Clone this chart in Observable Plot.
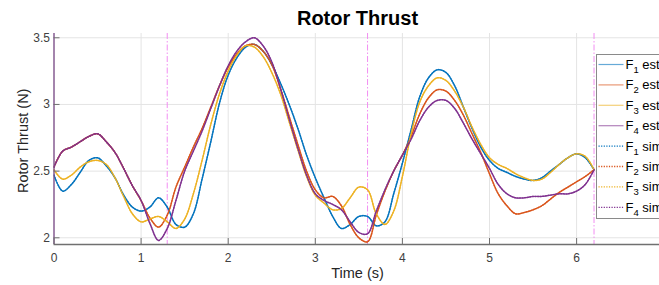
<!DOCTYPE html>
<html>
<head>
<meta charset="utf-8">
<script src="https://cdn.jsdelivr.net/npm/d3@7"></script>
<script src="https://cdn.jsdelivr.net/npm/@observablehq/plot@0.6"></script>
<style>
html,body{margin:0;padding:0;background:#fff;overflow:hidden;}
#chart{width:659px;height:285px;}
</style>
</head>
<body>
<div id="chart"></div>
<script>
// ---- data ----
const time = [0,0.1,0.2,0.3,0.4,0.5,0.6,0.7,0.8,0.9,1.0,1.1,1.2,1.3,1.4,1.5,1.6,1.7,1.8,1.9,2.0,2.1,2.2,2.3,2.4,2.5,2.6,2.7,2.8,2.9,3.0,3.1,3.2,3.3,3.4,3.5,3.6,3.7,3.8,3.9,4.0,4.1,4.2,4.3,4.4,4.5,4.6,4.7,4.8,4.9,5.0,5.1,5.2,5.3,5.4,5.5,5.6,5.7,5.8,5.9,6.0,6.1,6.2];

const estF1 = [2.47,2.35,2.40,2.49,2.58,2.60,2.54,2.45,2.32,2.23,2.20,2.23,2.30,2.23,2.10,2.08,2.18,2.44,2.72,3.01,3.22,3.35,3.43,3.45,3.40,3.30,3.16,3.00,2.82,2.62,2.45,2.30,2.16,2.07,2.10,2.16,2.16,2.09,2.12,2.33,2.56,2.81,3.06,3.20,3.26,3.24,3.14,2.98,2.82,2.68,2.58,2.52,2.49,2.46,2.44,2.43,2.45,2.50,2.55,2.60,2.63,2.60,2.51];
const estF2 = [2.53,2.65,2.68,2.72,2.76,2.78,2.72,2.64,2.52,2.39,2.28,2.15,2.08,2.17,2.38,2.53,2.68,2.82,2.98,3.14,3.28,3.38,3.44,3.45,3.40,3.30,3.12,2.91,2.70,2.50,2.36,2.30,2.31,2.24,2.10,2.00,1.97,2.17,2.35,2.50,2.62,2.76,2.93,3.05,3.11,3.10,3.03,2.92,2.78,2.64,2.48,2.33,2.24,2.18,2.19,2.21,2.24,2.29,2.34,2.38,2.42,2.46,2.51];
const estF3 = [2.51,2.44,2.47,2.53,2.57,2.58,2.55,2.45,2.31,2.18,2.12,2.14,2.16,2.12,2.07,2.14,2.33,2.58,2.85,3.08,3.25,3.37,3.44,3.43,3.36,3.24,3.08,2.87,2.66,2.46,2.32,2.26,2.21,2.22,2.30,2.38,2.36,2.18,2.10,2.20,2.46,2.78,3.02,3.14,3.20,3.18,3.10,2.98,2.83,2.70,2.60,2.55,2.52,2.48,2.45,2.43,2.44,2.49,2.55,2.60,2.63,2.61,2.51];
const estF4 = [2.53,2.65,2.68,2.72,2.76,2.78,2.72,2.64,2.52,2.39,2.28,2.11,1.98,2.07,2.28,2.50,2.65,2.80,2.97,3.14,3.29,3.40,3.47,3.50,3.44,3.32,3.12,2.89,2.67,2.47,2.33,2.28,2.25,2.21,2.12,2.04,2.03,2.20,2.36,2.50,2.62,2.74,2.88,2.98,3.03,3.03,2.97,2.86,2.74,2.63,2.52,2.40,2.33,2.30,2.30,2.31,2.31,2.32,2.33,2.33,2.35,2.40,2.51];

// simulated thrust follows the estimate closely in the picture
const simF1 = estF1;
const simF2 = estF2;
const simF3 = estF3;
const simF4 = estF4;

const seriesNums = ["1","2","3","4"];
const colors = ["#0072BD","#D95319","#EDB120","#7E2F8E"];
const xTicks = [0,1,2,3,4,5,6];
const xTickLabels = ["0","1","2","3","4","5","6"];
const yTicks = [2,2.5,3,3.5];
const yTickLabels = ["2","2.5","3","3.5"];
const eventTimes = [1.3,3.6,6.2];
const titleText = "Rotor Thrust";
const xLabel = "Time (s)";
const yLabel = "Rotor Thrust (N)";

// ---- build ----
const estAll = [estF1,estF2,estF3,estF4];
const simAll = [simF1,simF2,simF3,simF4];
const rowsOf = (arr) => time.map((t,i) => ({t, v: arr[i]}));

const yDomain = [1.9497, 3.532];
const W = 659, H = 285, mL = 53.5, mR = 0, mT = 33, mB = 41;
const xMax = (W - mL - mR) / 87.1;

const lineMarks = [];
estAll.forEach((arr,k) => lineMarks.push(
  Plot.line(rowsOf(arr), {x:"t", y:"v", stroke: colors[k], strokeWidth: 1.3, strokeOpacity: 0.6, curve: "catmull-rom", clip: true})
));
simAll.forEach((arr,k) => lineMarks.push(
  Plot.line(rowsOf(arr), {x:"t", y:"v", stroke: colors[k], strokeWidth: 1.5, strokeDasharray: "1.2,1.4", curve: "catmull-rom", clip: true})
));

const frameW = W - mL - mR, frameH = H - mT - mB;

const plot = Plot.plot({
  width: W, height: H,
  marginLeft: mL, marginRight: mR, marginTop: mT, marginBottom: mB,
  style: {fontFamily: "'Liberation Sans', Arial, sans-serif", fontSize: "12px", color: "#404040", background: "#fff", overflow: "visible"},
  x: {domain: [0, xMax], ticks: xTicks, tickSize: 0, tickPadding: 8.5, tickFormat: d => xTickLabels[xTicks.indexOf(d)], label: null},
  y: {domain: yDomain, ticks: yTicks, tickSize: 0, tickPadding: 4, tickFormat: d => yTickLabels[yTicks.indexOf(d)], label: null},
  marks: [
    Plot.ruleX(xTicks, {stroke: "#e4e4e4", strokeWidth: 1}),
    Plot.ruleY(yTicks, {stroke: "#e4e4e4", strokeWidth: 1}),
    Plot.ruleX(eventTimes, {stroke: "#f28ef2", strokeWidth: 1, strokeDasharray: "6,2,1.5,2"}),
    ...lineMarks,
    Plot.ruleY([yDomain[0]], {stroke: "#707070", strokeWidth: 1.5}),
    Plot.ruleX([0], {stroke: "#7a4a88", strokeWidth: 1.3}),
    Plot.ruleX(xTicks, {stroke: "#707070", strokeWidth: 1, insetTop: frameH - 6}),
    Plot.ruleY(yTicks, {stroke: "#707070", strokeWidth: 1, insetRight: frameW - 6})
  ]
});

document.getElementById("chart").appendChild(plot);

const svg = d3.select(plot);
const font = "'Liberation Sans', Arial, sans-serif";

svg.append("text").attr("x", 357.5).attr("y", 25).attr("text-anchor", "middle")
  .attr("font-family", font).attr("font-weight", "bold").attr("font-size", 20).attr("fill", "#000").text(titleText);
svg.append("text").attr("x", 357.5).attr("y", 278).attr("text-anchor", "middle")
  .attr("font-family", font).attr("font-size", 14.5).attr("fill", "#262626").text(xLabel);
svg.append("text").attr("transform", "translate(27.5,140.8) rotate(-90)").attr("text-anchor", "middle")
  .attr("font-family", font).attr("font-size", 14.5).attr("fill", "#262626").text(yLabel);

// legend
const lg = svg.append("g");
lg.append("rect").attr("x", 596.5).attr("y", 54.5).attr("width", 80).attr("height", 164)
  .attr("fill", "#fff").attr("stroke", "#8a8a8a").attr("stroke-width", 1);
const legendItems = [];
["est","sim"].forEach(kind => seriesNums.forEach((n,k) => legendItems.push({kind, n, color: colors[k]})));
legendItems.forEach((it,i) => {
  const cy = 64.5 + 20.4*i;
  const ln = lg.append("line").attr("x1", 598.5).attr("x2", 623.5).attr("y1", cy).attr("y2", cy)
    .attr("stroke", it.color);
  if (it.kind === "sim") ln.attr("stroke-width", 1.3).attr("stroke-dasharray", "1.2,1.4");
  else ln.attr("stroke-width", 1.2).attr("stroke-opacity", 0.6);
  const tx = lg.append("text").attr("x", 625.5).attr("y", cy + 4.5).attr("text-anchor", "start")
    .attr("font-family", font).attr("font-size", 13).attr("fill", "#000");
  tx.append("tspan").text("F");
  tx.append("tspan").attr("dy", 4).attr("font-size", 9.5).text(it.n);
  tx.append("tspan").attr("dy", -4).text(" " + it.kind);
});
</script>
</body>
</html>
